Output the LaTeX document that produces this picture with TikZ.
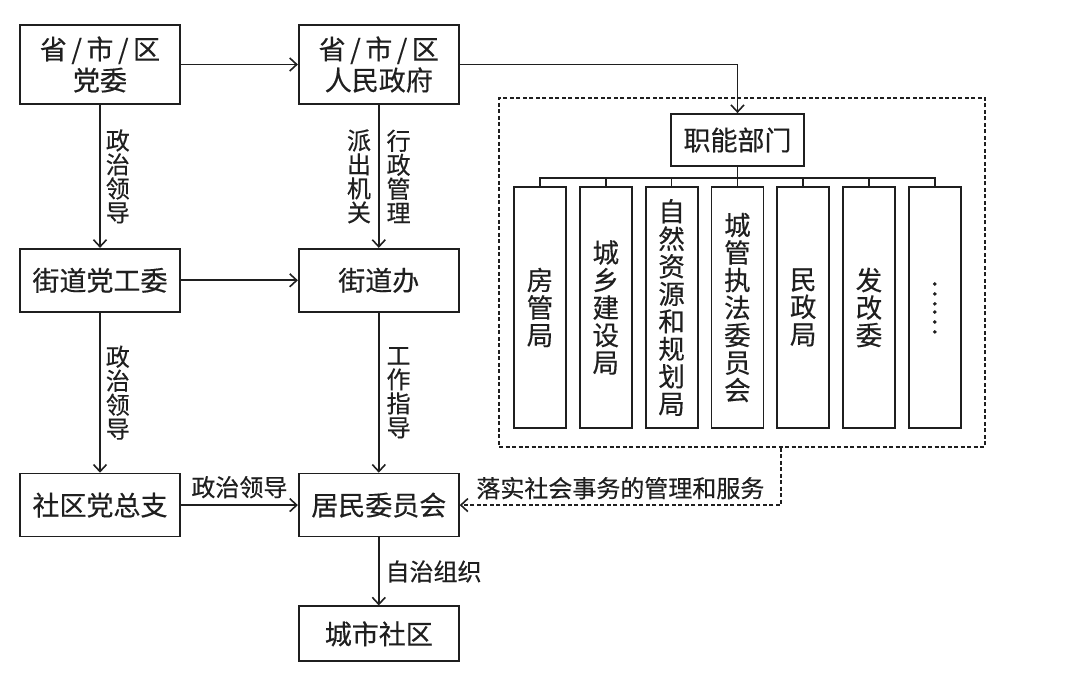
\documentclass[tikz,border=0pt]{standalone}
\usepackage{fontspec}
\setmainfont{Noto Sans CJK SC}[FakeBold=0.4]
\usetikzlibrary{arrows.meta,positioning}
\colorlet{anthracite}{black!88}
\newcommand{\unitfont}{\fontsize{27}{31}\selectfont}
\newcommand{\officefont}{\fontsize{26.5}{27.5}\selectfont}
\newcommand{\flowfont}{\fontsize{24}{24}\selectfont}
\tikzstyle{unit} = [%
	rectangle,
	draw=anthracite,
	line width=1.8pt,
	minimum width=160pt,
	minimum height=63pt,
	inner sep=0pt,
	align=center,
	text=anthracite,
	font=\unitfont
]
\tikzstyle{unit tall} = [%
	unit,
	minimum height=79pt
]
\tikzstyle{office} = [%
	unit,
	minimum width=52pt,
	minimum height=241pt,
	text width=52pt,
	font=\officefont
]
\tikzstyle{frame} = [%
	rectangle,
	draw=anthracite,
	line width=1.5pt,
	dash pattern=on 4pt off 2.5pt,
	minimum width=486pt,
	minimum height=349pt,
	inner sep=0pt
]
\tikzstyle{pointer} = [-{Straight Barb[length=7pt,width=13pt]}]
\tikzstyle{link} = [draw=anthracite, line width=1.6pt]
\tikzstyle{dashed link} = [link, dash pattern=on 4pt off 2.5pt]
\tikzstyle{flow label} = [font=\flowfont, text=anthracite, inner sep=1pt]
\tikzstyle{flow label v} = [flow label, text width=24pt, align=center]
\tikzset{every edge/.append style={
	pointer,
	link
}}

\begin{document}
\begin{tikzpicture}[x=1pt, y=1pt]
\useasboundingbox (0,0) rectangle (1080,678);

% party and government column
\node[unit tall] (party) at (100,613.5) {省\,/\,市\,/\,区\\党委};
\node[unit tall, right=117pt of party] (gov) {省\,/\,市\,/\,区\\人民政府};
\node[unit, below=143pt of party] (street party) {街道党工委};
\node[unit, right=117pt of street party] (street office) {街道办};
\node[unit, below=160pt of street party] (branch) {社区党总支};
\node[unit, right=117pt of branch] (committee) {居民委员会};
\node[unit, minimum height=55pt, below=68pt of committee] (community) {城市社区};

% functional departments
\node[frame] (frame) at (742,405.5) {};
\node[unit, minimum width=133pt, minimum height=52pt] (dept) at (737.5,538) {职能部门};
\begin{scope}[node distance=12pt]
	\node[office] (c1) at (540,370.5) {房\\管\\局};
	\node[office, right=of c1] (c2) {城\\乡\\建\\设\\局};
	\node[office, right=of c2] (c3) {自\\然\\资\\源\\和\\规\\划\\局};
	\node[office, right=of c3] (c4) {城\\管\\执\\法\\委\\员\\会};
	\node[office, right=of c4] (c5) {民\\政\\局};
	\node[office, right=of c5] (c6) {发\\改\\委};
	\node[office, right=of c6] (c7) {\rotatebox{-90}{……}};
\end{scope}
\coordinate (bus) at ([yshift=-11pt]dept.south);
\draw[link] (dept) -- (bus)
  (c1.north) |- (bus) -| (c7.north)
  (c2.north) -- (c2.north|-bus)
  (c3.north) -- (c3.north|-bus)
  (c4.north) -- (c4.north|-bus)
  (c5.north) -- (c5.north|-bus)
  (c6.north) -- (c6.north|-bus);

% connectors
\path (party) edge (gov)
      (party) edge node[flow label v, right=4pt] {政\\治\\领\\导} (street party)
      (gov) edge node[flow label v, left=6pt] {派\\出\\机\\关}
                 node[flow label v, right=6pt] {行\\政\\管\\理} (street office)
      (street party) edge (street office)
      (street party) edge node[flow label v, right=4pt] {政\\治\\领\\导} (branch)
      (street office) edge node[flow label v, right=6pt] {工\\作\\指\\导} (committee)
      (branch) edge node[flow label, above=5pt] {政治领导} (committee)
      (committee) edge node[flow label, right=5pt] {自治组织} (community);
\draw[link, pointer] (gov) -| (dept);

% implementation feedback
\coordinate (drop) at ([xshift=39pt]frame.south);
\draw[dashed link, pointer] (drop) |- node[flow label, pos=0.75, above=4pt] {落实社会事务的管理和服务} (committee);

\end{tikzpicture}
\end{document}
